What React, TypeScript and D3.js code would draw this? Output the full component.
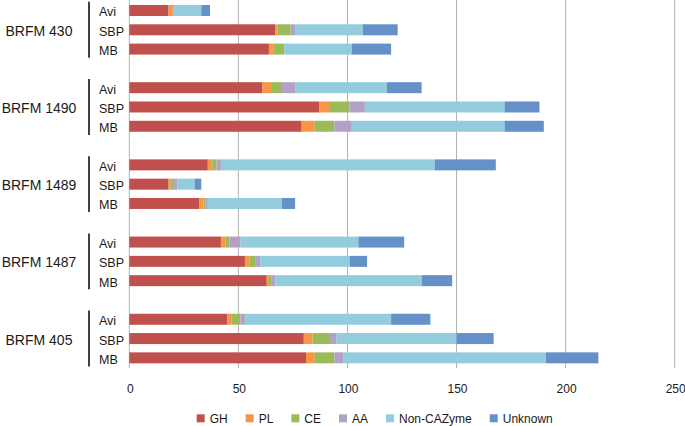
import { useRef, useEffect } from 'react';
import { select, scaleBand, scaleLinear, stack } from 'd3';

const strains = ["BRFM 430", "BRFM 1490", "BRFM 1489", "BRFM 1487", "BRFM 405"];
const media = ["Avi", "SBP", "MB"];
const families = ["GH", "PL", "CE", "AA", "Non-CAZyme", "Unknown"];
const colors = ["#C0504D", "#F79646", "#9BBB59", "#B3A2C7", "#93CDDD", "#6591C8"];
const xTicks = [0, 50, 100, 150, 200, 250];

// one value per strain x medium, in the order strains[i] / media[j]
const gh = [18, 67, 64, 61, 87, 79, 36, 18, 32, 42, 53, 63, 45, 80, 81];
const pl = [2, 1, 2, 4, 5, 6, 2, 1, 2, 2, 2, 1, 2, 4, 4];
const ce = [0, 6, 5, 5, 9, 9, 2, 1, 1, 2, 3, 1, 4, 8, 9];
const aa = [0, 2, 0, 6, 7, 8, 2, 2, 1, 5, 2, 2, 2, 3, 4];
const nonCazyme = [13, 31, 31, 42, 64, 70, 98, 8, 34, 54, 41, 67, 67, 55, 93];
const unknown = [4, 16, 18, 16, 16, 18, 28, 3, 6, 21, 8, 14, 18, 17, 24];

const width = 685;
const height = 426;
const plotTop = 0.85;
const plotBottom = 367.5;
const font = "'Liberation Sans', Arial, sans-serif";

const App = () => {
    const d3svg = useRef(null)

    useEffect(() => {
        if (!d3svg.current) return
        const svg = select(d3svg.current)
        svg.selectAll("*").remove()

        const series = [gh, pl, ce, aa, nonCazyme, unknown]
        const rows = []
        const rowIds = []
        strains.forEach((s, i) => {
            media.forEach((m, j) => {
                const k = i * 3 + j
                const row = { id: `${i}-${j}`, strain: s, medium: m }
                families.forEach((f, fi) => { row[f] = series[fi][k] })
                rows.push(row)
                rowIds.push(row.id)
            })
            if (i < strains.length - 1) rowIds.push(`gap${i}`)
        })

        const x = scaleLinear().domain([0, 250]).range([129.3, 674.7])
        const y = scaleBand()
            .domain(rowIds)
            .range([plotTop, plotBottom])
            .paddingInner(0.43)
            .paddingOuter(0.215)
        const bw = y.bandwidth()
        const halfGap = (y.step() - bw) / 2

        // grid
        svg.append("g")
            .selectAll("line")
            .data(xTicks)
            .join("line")
            .attr("x1", d => x(d))
            .attr("x2", d => x(d))
            .attr("y1", 0)
            .attr("y2", 368)
            .attr("stroke", "#B3B3B3")
            .attr("stroke-width", 1)

        svg.append("g")
            .selectAll("text")
            .data(xTicks)
            .join("text")
            .attr("x", d => x(d) + 1)
            .attr("y", 389)
            .attr("text-anchor", "middle")
            .attr("dominant-baseline", "central")
            .style("font-family", font)
            .style("font-size", "12px")
            .attr("fill", "#1a1a1a")
            .text(d => d)

        // stacked bars
        const stacked = stack().keys(families)(rows)
        svg.append("g")
            .selectAll("g")
            .data(stacked)
            .join("g")
            .attr("fill", (d, i) => colors[i])
            .selectAll("rect")
            .data(d => d)
            .join("rect")
            .attr("x", d => x(d[0]))
            .attr("width", d => Math.max(0, x(d[1]) - x(d[0])))
            .attr("y", d => y(d.data.id))
            .attr("height", bw)

        // medium labels
        svg.append("g")
            .selectAll("text")
            .data(rows)
            .join("text")
            .attr("x", 99)
            .attr("y", d => y(d.id) + bw / 2 + 2)
            .attr("dominant-baseline", "central")
            .style("font-family", font)
            .style("font-size", "12.5px")
            .attr("fill", "#1a1a1a")
            .text(d => d.medium)

        // strain labels and brackets
        const groups = svg.append("g")
        strains.forEach((s, i) => {
            const top = y(`${i}-0`) - halfGap
            const bottom = y(`${i}-2`) + bw + halfGap
            groups.append("line")
                .attr("x1", 89).attr("x2", 89)
                .attr("y1", top + 1).attr("y2", bottom - 1)
                .attr("stroke", "#000")
                .attr("stroke-width", 1.5)
            groups.append("text")
                .attr("x", 39)
                .attr("y", (top + bottom) / 2 + 1)
                .attr("text-anchor", "middle")
                .attr("dominant-baseline", "central")
                .style("font-family", font)
                .style("font-size", "14px")
                .attr("fill", "#1a1a1a")
                .text(s)
        })

        // legend
        const legend = svg.append("g")
        const items = families.map((f, i) => {
            const g = legend.append("g")
            g.append("rect")
                .attr("width", 8).attr("height", 8)
                .attr("y", 414.3)
                .attr("fill", colors[i])
            const t = g.append("text")
                .attr("x", 13)
                .attr("y", 418.5)
                .attr("dominant-baseline", "central")
                .style("font-family", font)
                .style("font-size", "12px")
                .attr("fill", "#1a1a1a")
                .text(f)
            return { g, w: 13 + t.node().getComputedTextLength() }
        })
        const gap = 18
        const total = items.reduce((a, b) => a + b.w, 0) + gap * (items.length - 1)
        let cx = 374.7 - total / 2
        items.forEach(it => {
            it.g.attr("transform", `translate(${cx},0)`)
            cx += it.w + gap
        })
    }, [])

    return (
        <svg
            width={width}
            height={height}
            style={{ position: "absolute", left: 0, top: 0, background: "#fff" }}
            ref={d3svg}
        ></svg>
    )
}

export default App;
